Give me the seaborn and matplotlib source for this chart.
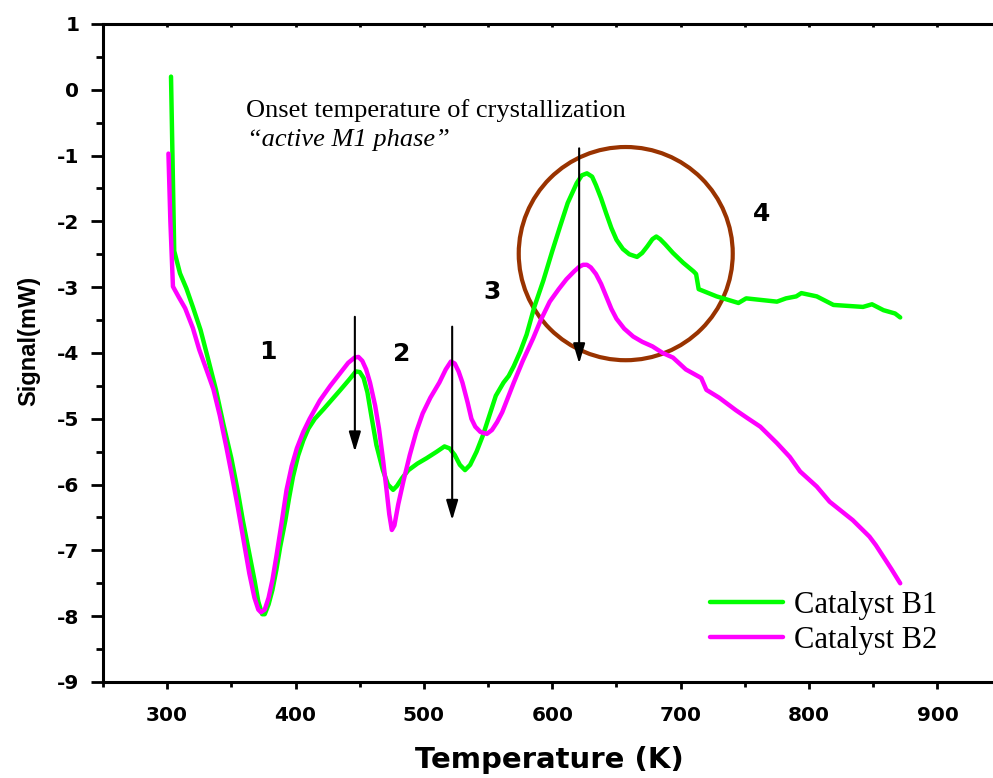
import matplotlib
matplotlib.use("Agg")
import matplotlib.pyplot as plt
from matplotlib.patches import Ellipse
from matplotlib.ticker import MultipleLocator
import numpy as np
import pandas as pd
import seaborn as sns

# Catalyst B1 (green)
temp_b1 = [303, 305.5, 310, 315, 320, 326, 332, 338, 344, 350, 355, 359, 364,
           368, 371, 374, 376, 379, 382, 385, 388, 392, 395, 398, 402, 406,
           410, 415, 422, 435, 442, 447, 450, 453, 456, 459, 463, 468, 472,
           476, 479, 483, 488, 495, 502, 510, 516, 520, 524, 528, 532, 536,
           541, 546, 551, 556, 562, 566, 570, 575, 580, 586, 593, 600, 606,
           612, 619, 623, 627, 631, 634, 638, 642, 646, 650, 655, 660, 666,
           670, 674, 678, 681, 684, 688, 694, 702, 710, 712, 714, 728, 745,
           751, 775, 782, 790, 794, 806, 819, 842, 849, 858, 867, 871]
signal_b1 = [0.2, -2.45, -2.79, -3.02, -3.30, -3.65, -4.10, -4.56, -5.10,
             -5.60, -6.10, -6.55, -7.05, -7.45, -7.78, -7.97, -7.97, -7.82,
             -7.60, -7.30, -6.95, -6.55, -6.20, -5.88, -5.56, -5.33, -5.15,
             -5.00, -4.85, -4.56, -4.40, -4.28, -4.29, -4.38, -4.60, -4.95,
             -5.40, -5.78, -6.00, -6.08, -6.02, -5.90, -5.78, -5.68, -5.60,
             -5.50, -5.42, -5.45, -5.55, -5.70, -5.78, -5.70, -5.50, -5.25,
             -4.95, -4.65, -4.45, -4.35, -4.20, -3.98, -3.72, -3.30, -2.90,
             -2.45, -2.08, -1.72, -1.42, -1.30, -1.27, -1.32, -1.45, -1.65,
             -1.88, -2.10, -2.28, -2.42, -2.50, -2.54, -2.48, -2.38, -2.27,
             -2.23, -2.27, -2.35, -2.48, -2.63, -2.76, -2.80, -3.03, -3.14,
             -3.24, -3.17, -3.22, -3.17, -3.14, -3.09, -3.14, -3.27, -3.30,
             -3.26, -3.35, -3.40, -3.46]

# Catalyst B2 (magenta)
temp_b2 = [301, 302.5, 304.5, 309, 314, 320, 325, 330, 336, 341, 346, 351,
           355, 360, 364, 368, 371, 373, 376, 379, 382, 385, 389, 393, 397,
           401, 406, 411, 419, 427, 435, 441, 446, 449, 452, 455, 458, 462,
           465, 468, 471, 473, 475, 477, 480, 484, 489, 494, 499, 505, 512,
           517, 521, 524, 527, 530, 534, 537, 540, 544, 549, 553, 557, 561,
           565, 570, 577, 585, 591, 598, 605, 611, 617, 621, 624, 627, 630,
           634, 638, 642, 646, 650, 656, 663, 670, 678, 686, 694, 704, 716,
           720, 730, 743, 752, 762, 775, 785, 793, 806, 816, 834, 847, 852,
           858, 864, 871]
signal_b2 = [-0.97, -2.00, -2.99, -3.15, -3.32, -3.62, -3.95, -4.22, -4.55,
             -4.95, -5.42, -5.92, -6.34, -6.90, -7.35, -7.72, -7.90, -7.94,
             -7.90, -7.72, -7.45, -7.10, -6.60, -6.08, -5.72, -5.45, -5.20,
             -5.00, -4.72, -4.50, -4.30, -4.15, -4.07, -4.06, -4.12, -4.25,
             -4.45, -4.80, -5.15, -5.60, -6.10, -6.45, -6.69, -6.62, -6.30,
             -5.95, -5.55, -5.20, -4.92, -4.68, -4.45, -4.25, -4.13, -4.16,
             -4.28, -4.45, -4.75, -5.00, -5.12, -5.20, -5.23, -5.17, -5.05,
             -4.90, -4.70, -4.45, -4.12, -3.78, -3.50, -3.22, -3.03, -2.88,
             -2.76, -2.69, -2.66, -2.66, -2.70, -2.80, -2.95, -3.14, -3.33,
             -3.48, -3.63, -3.75, -3.83, -3.90, -4.00, -4.07, -4.25, -4.38,
             -4.56, -4.68, -4.87, -4.99, -5.12, -5.37, -5.58, -5.80, -6.03,
             -6.26, -6.54, -6.79, -6.92, -7.10, -7.28, -7.50]

series_names = ["Catalyst B1", "Catalyst B2"]
series_colors = ["#00ff00", "#ff00ff"]

# peak labels and onset arrows (x, y_start, y_end)
peak_labels = ["1", "2", "3", "4"]
peak_pos = [(378.4, -3.98), (482.8, -4.02), (552.9, -3.07), (763.2, -1.89)]
arrows = [(446.2, -3.45, -5.50), (522.0, -3.60, -6.54), (620.9, -0.89, -4.16)]

sns.set_style("ticks")
plt.rcParams["axes.unicode_minus"] = False
plt.rcParams["font.family"] = ["DejaVu Sans"]
for key in ["text.color", "axes.labelcolor", "xtick.color", "ytick.color",
            "axes.edgecolor"]:
    plt.rcParams[key] = "black"

df = pd.concat([
    pd.DataFrame({"T": temp_b1, "S": signal_b1, "cat": series_names[0]}),
    pd.DataFrame({"T": temp_b2, "S": signal_b2, "cat": series_names[1]}),
])

fig = plt.figure(figsize=(9.93, 7.78), dpi=100)
ax = fig.add_axes([0.1037, 0.1234, 0.905, 0.8458])

for name, col in zip(series_names, series_colors):
    sub = df[df["cat"] == name]
    sns.lineplot(data=sub, x="T", y="S", sort=False, estimator=None,
                 color=col, lw=3.2, label=name, ax=ax)

ax.add_patch(Ellipse((657.2, -2.49), 166.7, 3.24, fill=False,
                     edgecolor="#993300", lw=3.0))

for x, y0, y1 in arrows:
    ax.annotate("", xy=(x, y1), xytext=(x, y0),
                arrowprops=dict(arrowstyle="-|>,head_length=0.6,head_width=0.18",
                                mutation_scale=20, color="black", lw=1.5,
                                shrinkA=0, shrinkB=0))

for lab, (x, y) in zip(peak_labels, peak_pos):
    ax.text(x, y, lab, fontsize=18, fontweight="bold", ha="center", va="center")

ax.text(361.3, -0.32, "Onset temperature of crystallization",
        family="Liberation Serif", fontsize=19, va="center", ha="left")
ax.text(362.5, -0.76, "\u201cactive M1 phase\u201d", family="Liberation Serif",
        style="italic", fontsize=19, va="center", ha="left")

ax.set_xlim(250, 950)
ax.set_ylim(-9, 1)
ax.xaxis.set_major_locator(MultipleLocator(100))
ax.xaxis.set_minor_locator(MultipleLocator(50))
ax.yaxis.set_major_locator(MultipleLocator(1))
ax.yaxis.set_minor_locator(MultipleLocator(0.5))

for side in ["left", "bottom", "top"]:
    ax.spines[side].set_linewidth(2.2)
ax.spines["right"].set_visible(False)

ax.tick_params(axis="x", which="major", length=5, width=2, pad=12, labelsize=14.5)
ax.tick_params(axis="x", which="minor", length=3.5, width=2)
ax.tick_params(axis="y", which="major", length=9, width=2, pad=8, labelsize=14.5)
ax.tick_params(axis="y", which="minor", length=5, width=2)
ax.tick_params(axis="x", which="both", top=True, labeltop=False)
for t in ax.get_xticklabels() + ax.get_yticklabels():
    t.set_fontweight("bold")
# top spine ticks are tiny and point inward
for tick in ax.xaxis.get_major_ticks() + ax.xaxis.get_minor_ticks():
    tick.tick2line.set_markersize(2)
    tick.tick2line.set_marker(3)

ax.set_xlabel("Temperature (K)", fontsize=21, fontweight="bold")
ax.set_ylabel("Signal(mW)", fontsize=17, fontweight="bold",
              family="Liberation Sans")
ax.xaxis.set_label_coords(0.497, -0.098)
ax.yaxis.set_label_coords(-0.070, 0.519)

ax.legend(loc="center left", bbox_to_anchor=(710 / 993, 1 - 623 / 778),
          bbox_transform=fig.transFigure, frameon=False, borderpad=0,
          borderaxespad=0, handlelength=2.4, handletextpad=0.35,
          labelspacing=0.2,
          prop={"family": "Liberation Serif", "size": 22})

fig.savefig("out.png", dpi=100)
